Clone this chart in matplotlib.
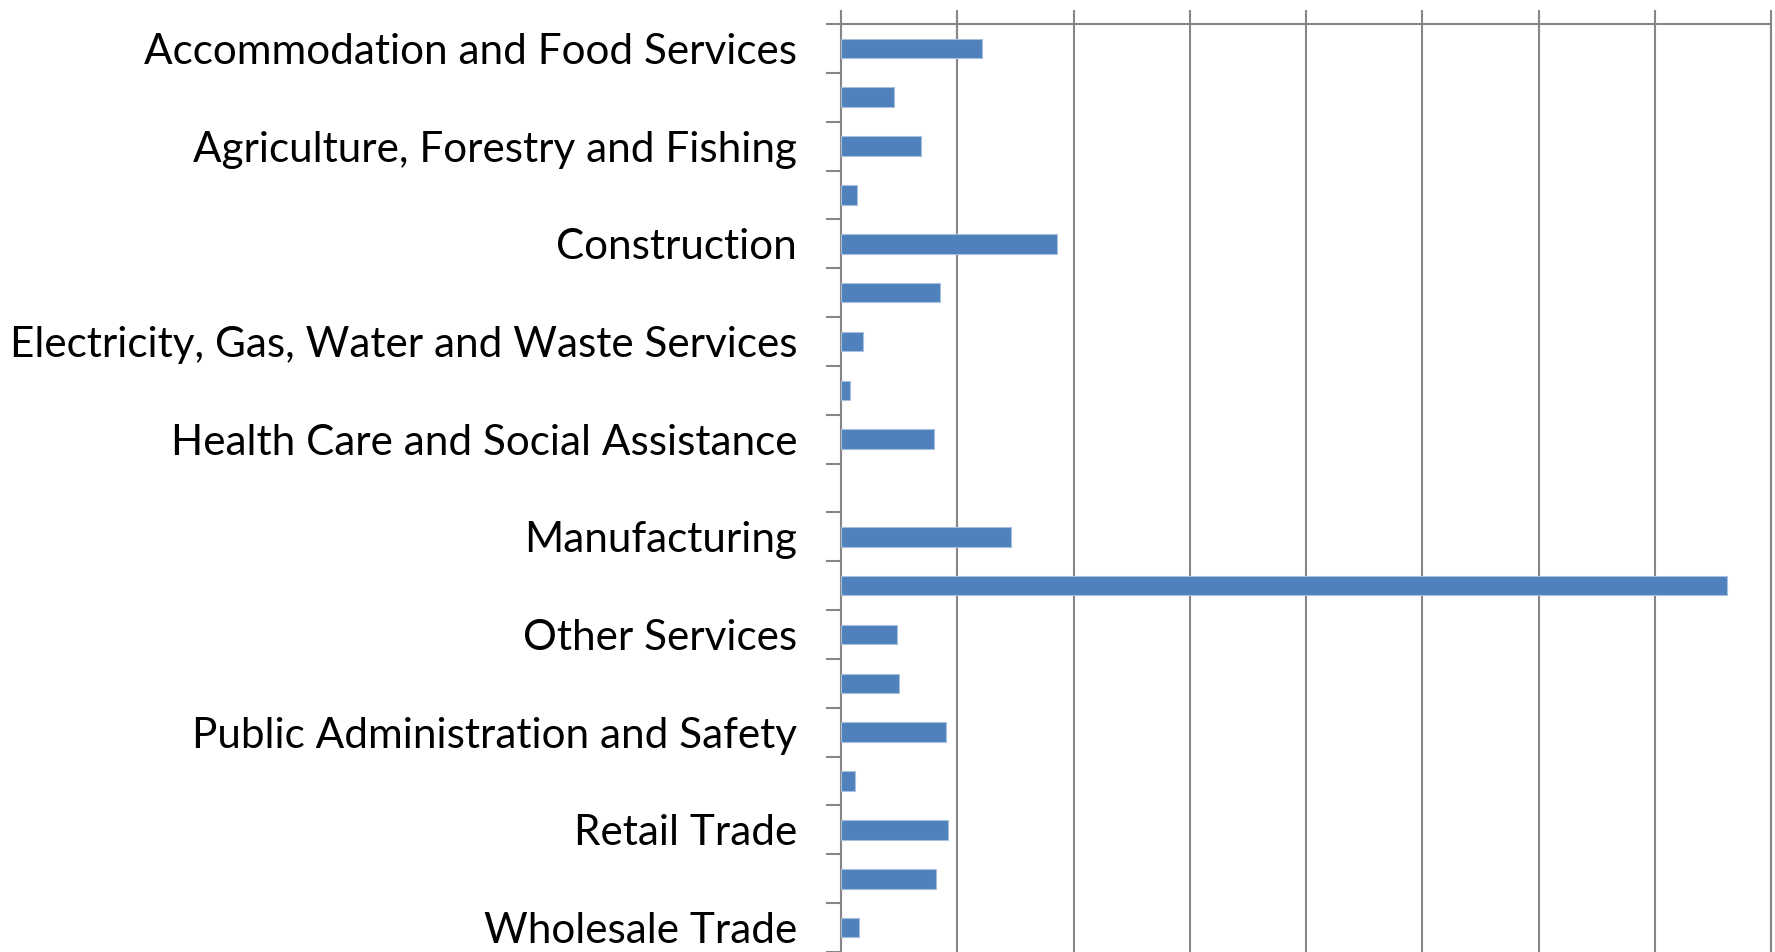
import matplotlib
matplotlib.use("Agg")
import matplotlib.pyplot as plt
import numpy as np

# Industries (ANZSIC divisions), alphabetical
industries = [
    "Accommodation and Food Services",
    "Administrative and Support Services",
    "Agriculture, Forestry and Fishing",
    "Arts and Recreation Services",
    "Construction",
    "Education and Training",
    "Electricity, Gas, Water and Waste Services",
    "Financial and Insurance Services",
    "Health Care and Social Assistance",
    "Information Media and Telecommunications",
    "Manufacturing",
    "Mining",
    "Other Services",
    "Professional, Scientific and Technical Services",
    "Public Administration and Safety",
    "Rental, Hiring and Real Estate Services",
    "Retail Trade",
    "Transport, Postal and Warehousing",
    "Wholesale Trade",
]
values = [2426, 908, 1368, 282, 3712, 1696, 380, 150, 1598, 0,
          2920, 15248, 972, 1006, 1798, 248, 1834, 1632, 316]

x_max = 16000
x_step = 2000

grey = "#868686"
blue = "#4F81BD"

fig = plt.figure(figsize=(17.75, 9.52), dpi=100)
ax = fig.add_axes([841 / 1775, 0.0, (1771 - 841) / 1775, 1 - 24 / 952])

y = np.arange(len(industries))
# no outline on empty bars
lw = [0.8 if v > 0 else 0 for v in values]
ax.barh(y, values, height=0.4, color=blue, edgecolor="#A7C0DE", linewidth=lw, zorder=3)

ax.set_xlim(0, x_max)
ax.set_ylim(len(industries) - 0.5, -0.5)

# value axis on top, labels cut off like the source
ax.xaxis.tick_top()
ax.set_xticks(np.arange(0, x_max + 1, x_step))
ax.tick_params(axis="x", which="major", length=10, width=1.5, color=grey, labeltop=False)
ax.grid(axis="x", color=grey, linewidth=1.5, zorder=0)

# category ticks between categories, labels on every other category
ax.set_yticks(np.arange(-0.5, len(industries), 1.0))
ax.set_yticklabels([])
ax.tick_params(axis="y", which="major", length=11, width=1.5, color=grey)
ax.set_yticks(y[::2], minor=True)
ax.set_yticklabels(industries[::2], minor=True, fontsize=30.4, fontfamily="Lato")
ax.tick_params(axis="y", which="minor", length=0, pad=31.5)

for side in ["top", "left", "right"]:
    ax.spines[side].set_color(grey)
    ax.spines[side].set_linewidth(1.5)
ax.spines["bottom"].set_visible(False)

fig.savefig("out.png", dpi=100)
